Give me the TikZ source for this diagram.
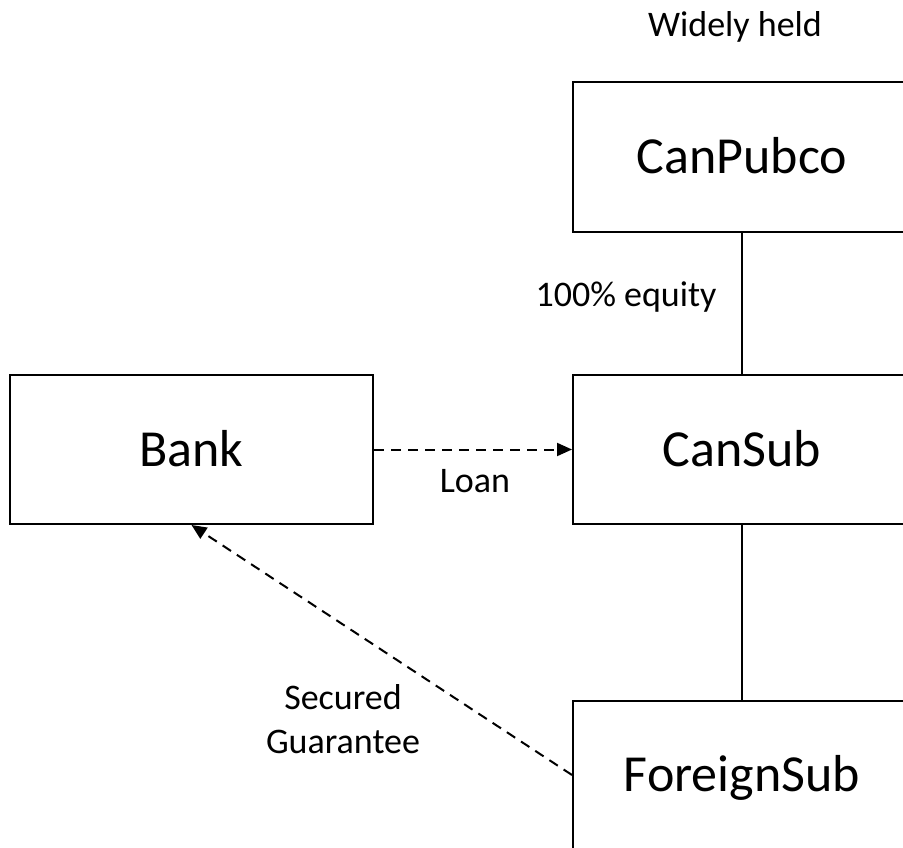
\documentclass[tikz,border=0pt]{standalone}
\usepackage{fontspec}
\setmainfont{Carlito}
\usetikzlibrary{arrows.meta}
\begin{document}
\begin{tikzpicture}[x=1pt,y=-1pt,
  entity/.style={draw, line width=2pt, minimum width=338pt, minimum height=149pt, inner sep=0pt,
    font=\fontsize{52}{62}\selectfont, text height=43.9pt, text depth=10.4pt},
  lbl/.style={font=\fontsize{36}{44}\selectfont, inner sep=0pt},
  flow/.style={line width=2pt, dash pattern=on 10pt off 7pt, -{Triangle[length=15pt,width=13pt]}},
  own/.style={line width=1.6pt}]
\useasboundingbox (0,0) rectangle (903,848);
\clip (0,0) rectangle (903,848);
\node[entity, minimum height=150pt] (pub) at (742,157) {CanPubco};
\node[entity] (sub) at (742,449.5) {CanSub};
\node[entity, minimum width=363pt] (bank) at (191.5,449.5) {Bank};
\node[entity, minimum height=148pt] (fs) at (742,775) {ForeignSub};
\draw[own] (pub) -- (sub);
\draw[own] (sub) -- (fs);
\draw[flow] (bank) -- (sub);
\draw[flow] (fs.west) -- (bank.south);
\node[lbl, anchor=base] (wh) at (735,37) {Widely held};
\node[lbl, anchor=base] (eq) at (626,306) {100\% equity};
\node[lbl, anchor=base] (loan) at (475,492) {Loan};
\node[lbl, align=center] (guar) at (343,719) {Secured\\Guarantee};
\end{tikzpicture}
\end{document}
